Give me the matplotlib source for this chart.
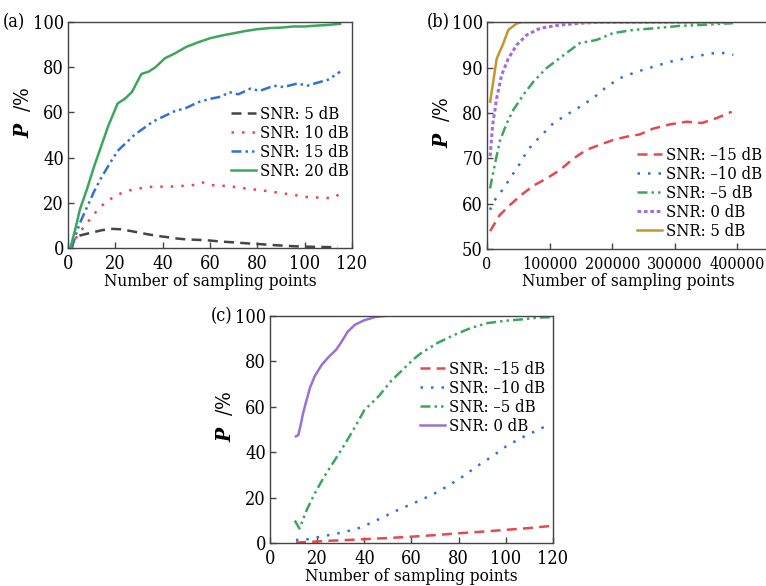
import matplotlib
matplotlib.use("Agg")
import matplotlib.pyplot as plt

plt.rcParams['font.family'] = ['DejaVu Serif']
plt.rcParams['font.stretch'] = 'condensed'
plt.rcParams['mathtext.fontset'] = 'dejavuserif'

# ---------------- Panel (a) data ----------------
a_x5 = [1.5, 3, 6, 10, 14, 18, 22, 26, 30, 34, 38, 42, 46, 50, 55, 60, 65, 70, 75, 80, 85, 90, 95, 100, 105, 110, 114]
a_y5 = [0, 5, 5.8, 6.8, 7.8, 8.5, 8.3, 7.6, 6.8, 6, 5.3, 4.8, 4.2, 3.8, 3.6, 3.3, 2.8, 2.5, 2.1, 1.8, 1.4, 1.1, 0.8, 0.6, 0.5, 0.4, 0.4]
a_x10 = [1.5, 2.5, 5, 8, 11, 14, 17, 20, 23, 26, 30, 34, 38, 42, 46, 50, 54, 57, 60, 64, 68, 72, 76, 80, 84, 88, 92, 96, 100, 104, 108, 112, 115]
a_y10 = [0, 3, 7, 11, 15, 18.5, 21, 23, 24.5, 25.5, 26.3, 27, 27.2, 27, 27.4, 27.5, 28, 29, 28, 27.4, 27.6, 26.6, 26.3, 25.7, 25.2, 24.6, 24, 23.4, 22.6, 22.4, 22.2, 22.1, 24]
a_x15 = [1.5, 3, 5, 8, 11, 14, 18, 21, 25, 28, 32, 36, 40, 45, 50, 55, 60, 65, 68, 72, 77, 81, 87, 91, 97, 101, 105, 110, 115]
a_y15 = [0, 5, 11, 18, 25, 31, 38, 43, 47, 50, 53, 56, 58, 60.5, 62, 64.5, 66, 67, 69, 68, 70.5, 69.5, 71.8, 71.2, 72.8, 71.8, 73, 74.5, 78]
a_x20 = [1, 3, 5, 8, 11, 14, 17, 21, 24, 27, 31, 34, 37, 41, 45, 50, 55, 60, 65, 70, 75, 80, 85, 90, 95, 100, 105, 110, 115]
a_y20 = [0, 8, 17, 26, 36, 45, 54, 64, 66, 69, 77, 78, 80, 84, 86, 89, 91, 92.8, 94, 95, 96, 96.8, 97.3, 97.5, 98, 98, 98.4, 98.7, 99.2]
a_labels = ['SNR: 5 dB', 'SNR: 10 dB', 'SNR: 15 dB', 'SNR: 20 dB']

# ---------------- Panel (b) data ----------------
b_xm15 = [5000, 20000, 37000, 55000, 74000, 95000, 117000, 138000, 159000, 180000, 202000, 223000, 244000, 266000, 292000, 319000, 343000, 367000, 391000]
b_ym15 = [54, 57.5, 59.8, 62, 64, 65.6, 67.5, 70, 71.9, 73, 74.1, 74.8, 75.3, 76.6, 77.5, 78.1, 77.8, 78.9, 80.3]
b_xm10 = [4800, 12800, 20800, 31500, 42000, 52700, 63400, 74000, 90000, 106000, 127000, 148600, 169800, 191200, 212500, 239000, 265700, 292300, 319000, 345500, 367000, 380000, 393500]
b_ym10 = [58.7, 60.9, 62.3, 64.5, 66.7, 68.9, 71.5, 73.3, 75.5, 77.8, 79.6, 81.4, 83.3, 85.8, 87.7, 89.1, 90.2, 91.3, 92.1, 92.8, 93.3, 93.2, 92.8]
b_xm5 = [4800, 12800, 20800, 31400, 42000, 58000, 74000, 95000, 116000, 148000, 175000, 201000, 233000, 270000, 308000, 340000, 393000]
b_ym5 = [63.4, 68.9, 74, 77.7, 80.7, 84, 86.9, 89.9, 92.1, 95.4, 96.1, 97.6, 98.3, 98.7, 99.2, 99.4, 99.8]
b_x0 = [5000, 9000, 15500, 23400, 34000, 47400, 63400, 85000, 117000, 149000, 180000, 250000, 320000, 390000]
b_y0 = [70.5, 77.4, 83.3, 88.4, 92, 95, 97.2, 98.7, 99.4, 99.8, 100, 100, 100, 100]
b_x5 = [5000, 15500, 25000, 34000, 47000, 55000, 100000, 200000, 300000, 390000]
b_y5 = [82.5, 92, 95, 98.3, 99.7, 100, 100, 100, 100, 100]
b_labels = ['SNR: \u201315 dB', 'SNR: \u201310 dB', 'SNR: \u20135 dB', 'SNR: 0 dB', 'SNR: 5 dB']
b_xticks = [0, 100000, 200000, 300000, 400000]
b_xticklabels = ['0', '100000', '200000', '300000', '400000']

# ---------------- Panel (c) data ----------------
c_xm15 = [11, 15, 20, 25, 30, 40, 50, 60, 70, 80, 90, 100, 110, 119]
c_ym15 = [0.3, 0.5, 0.8, 1.1, 1.3, 1.8, 2.3, 2.9, 3.6, 4.4, 5.1, 5.9, 6.7, 7.6]
c_xm10 = [11, 14, 18, 22, 26, 30, 34, 38, 42, 46, 50, 55, 60, 65, 70, 76, 82, 88, 94, 100, 106, 112, 119]
c_ym10 = [1.5, 1.3, 2.2, 3, 3.8, 4.6, 5.6, 6.8, 8.6, 10.5, 12.5, 15, 17.2, 19.5, 22, 25.5, 29.5, 34, 38, 42.5, 46, 49, 52.5]
c_xm5 = [10.5, 12.5, 15.5, 19, 23, 27.5, 32, 36, 40, 46, 51.5, 57, 61, 64, 71, 78, 85, 92, 100, 107, 114, 119]
c_ym5 = [10, 6.5, 14.5, 22, 29.3, 36.6, 44, 51, 58.5, 64.5, 71.5, 77, 81, 83.5, 88, 91.5, 94.5, 96.7, 97.8, 98.4, 99.2, 99.3]
c_x0 = [11, 12, 13, 14, 15, 17, 19, 22, 25, 28, 30, 33, 36, 40, 45, 50, 60, 80, 100, 120]
c_y0 = [47, 47.5, 52, 57, 61, 68.5, 73.5, 78.5, 82, 85, 88, 93, 96, 98, 99.5, 100, 100, 100, 100, 100]
c_labels = ['SNR: \u201315 dB', 'SNR: \u201310 dB', 'SNR: \u20135 dB', 'SNR: 0 dB']

# styles
BLACK = '#454545'
RED = '#e8474c'
BLUE = '#2f72d6'
GREEN = '#3aa65e'
GOLD = '#c8952c'
PURPLE = '#a06ee0'
PURPLE_C = '#9b70d4'
DASH = (0, (4, 2.5))
DOT = (0, (1, 3.2))
DDOT = (0, (4, 1.6, 1, 1.6, 1, 1.6))
DENSEDOT = (0, (1.2, 0.9))
LW = 1.8
FS = 12
TFS = 13

fig = plt.figure(figsize=(7.66, 5.86), dpi=100)

def style_axes(ax, ly):
    for s in ax.spines.values():
        s.set_color('#444444')
        s.set_linewidth(1.0)
    ax.tick_params(direction='in', length=4, width=1, colors='#444444',
                   labelcolor='black', labelsize=TFS, top=False, right=False)
    ax.tick_params(axis='x', pad=5)
    ax.tick_params(axis='y', pad=3)
    ax.set_xlabel('Number of sampling points', fontsize=12.3, labelpad=0)
    ax.set_ylabel(r'$\boldsymbol{P}$  /%', fontsize=15)
    ax.yaxis.set_label_coords(-0.123, ly)

def add_legend(ax, x, y):
    ax.legend(loc='upper left', bbox_to_anchor=(x, y), frameon=False, fontsize=FS,
              handlelength=1.5, handletextpad=0.25, borderpad=0, borderaxespad=0,
              labelspacing=0.12)

# (a)
axa = fig.add_axes([0.0888, 0.5768, 0.3707, 0.3857])
axa.plot(a_x5, a_y5, color=BLACK, lw=LW, ls=DASH, label=a_labels[0])
axa.plot(a_x10, a_y10, color=RED, lw=LW, ls=DOT, label=a_labels[1])
axa.plot(a_x15, a_y15, color=BLUE, lw=LW, ls=DDOT, label=a_labels[2])
axa.plot(a_x20, a_y20, color=GREEN, lw=LW, ls='-', label=a_labels[3])
axa.set_xlim(0, 120)
axa.set_ylim(0, 100)
axa.set_xticks([0, 20, 40, 60, 80, 100, 120])
axa.set_yticks([0, 20, 40, 60, 80, 100])
style_axes(axa, 0.60)
add_legend(axa, 0.574, 0.63)
fig.text(0.003, 0.963, '(a)', fontsize=TFS, va='center', ha='left')

# (b)
axb = fig.add_axes([0.6358, 0.5746, 0.3677, 0.3874])
axb.plot(b_xm15, b_ym15, color=RED, lw=LW, ls=DASH, label=b_labels[0])
axb.plot(b_xm10, b_ym10, color=BLUE, lw=LW, ls=DOT, label=b_labels[1])
axb.plot(b_xm5, b_ym5, color=GREEN, lw=LW, ls=DDOT, label=b_labels[2])
axb.plot(b_x0, b_y0, color=PURPLE, lw=LW + 0.4, ls=DENSEDOT, label=b_labels[3])
axb.plot(b_x5, b_y5, color=GOLD, lw=LW, ls='-', label=b_labels[4])
axb.set_xlim(0, 450000)
axb.set_ylim(50, 100)
axb.set_xticks(b_xticks)
axb.set_xticklabels(b_xticklabels)
axb.set_yticks([50, 60, 70, 80, 90, 100])
style_axes(axb, 0.56)
axb.tick_params(axis='x', labelsize=11.5)
add_legend(axb, 0.533, 0.45)
fig.text(0.557, 0.963, '(b)', fontsize=TFS, va='center', ha='left')

# (c)
axc = fig.add_axes([0.3525, 0.0729, 0.3694, 0.3884])
axc.plot(c_xm15, c_ym15, color=RED, lw=LW, ls=DASH, label=c_labels[0])
axc.plot(c_xm10, c_ym10, color=BLUE, lw=LW, ls=DOT, label=c_labels[1])
axc.plot(c_xm5, c_ym5, color=GREEN, lw=LW, ls=DDOT, label=c_labels[2])
axc.plot(c_x0, c_y0, color=PURPLE_C, lw=LW, ls='-', label=c_labels[3])
axc.set_xlim(0, 120)
axc.set_ylim(0, 100)
axc.set_xticks([0, 20, 40, 60, 80, 100, 120])
axc.set_yticks([0, 20, 40, 60, 80, 100])
style_axes(axc, 0.56)
add_legend(axc, 0.529, 0.80)
fig.text(0.275, 0.46, '(c)', fontsize=TFS, va='center', ha='left')

fig.savefig('out.png', dpi=100)
